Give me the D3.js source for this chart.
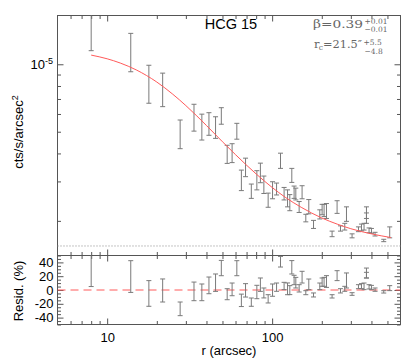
<!DOCTYPE html>
<html><head><meta charset="utf-8">
<script src="https://cdn.jsdelivr.net/npm/d3@7"></script>
<style>
body{margin:0;background:#fff}
svg{display:block}
text{font-family:"Liberation Sans",Arial,Helvetica,sans-serif}
</style>
</head><body><svg id="c" width="409" height="361"></svg>
<script>
// ---- data (surface brightness in units of 1e-6 cts/s/arcsec^2) ----
const radius = [8.0,13.9,17.9,21.7,27.7,33.6,37.5,41.4,45.4,49.2,53.4,57.2,61.1,65.1,69.0,74.8,80.8,84.9,89.1,94.6,100.6,106.4,112.4,118.2,124.0,128.0,131.6,135.9,139.2,145.8,151.9,160.0,166.8,178.2,194.5,200.9,206.5,213.5,230.9,247.6,259.6,275.6,282.3,305.2,333.7,348.0,360.8,373.1,373.1,386.9,400.0,420.6,474.9,516.1];
const surfBright = [14.1,11.5,8.3,7.8,4.92,5.83,5.29,5.45,5.25,5.9,3.98,4.03,5.04,3.05,3.48,2.72,3.05,3.29,2.91,2.48,2.75,2.78,3.72,2.65,2.53,2.42,3.2,2.69,2.64,2.31,2.69,2.06,2.32,1.93,2.14,2.25,2.23,2.22,1.75,2.31,1.85,1.885,2.15,1.715,1.835,1.87,1.885,2.13,2.11,1.815,1.805,1.745,1.635,1.78];
const sbErr = [2.6,2.24,1.6,1.33,0.72,0.8,0.7,0.63,0.58,0.5,0.37,0.39,0.41,0.32,0.33,0.2,0.3,0.33,0.26,0.18,0.24,0.17,0.29,0.17,0.22,0.2,0.23,0.17,0.16,0.13,0.18,0.08,0.17,0.08,0.1,0.12,0.14,0.17,0.05,0.15,0.05,0.065,0.16,0.035,0.045,0.065,0.065,0.18,0.06,0.045,0.045,0.033,0.02,0.1];
const residual = [30,19.5,-5,-0.7,-27.3,-2,-3.4,6.7,10.6,31.8,-6.1,0.9,31.6,-15,-0.5,-17.6,-2.9,7.7,-4.3,-12.8,-0.2,4.1,41,5.8,1.7,-0.2,32.9,14.5,10.6,2.4,18.6,-3.9,8.2,-7.2,5.3,11.4,11.8,12.3,-9.2,20.8,-1.2,1.7,13.8,-5.8,4.8,5.6,5.3,24.6,21.5,4.6,3.6,0.5,-2.7,2.7];
const residErr = [25,23,18.6,16.7,9.9,13.5,12.1,12.1,12.6,11.1,8,9.2,10.9,9,9.7,6,9.7,9.7,7.2,6,8.9,6,7.7,5.3,8.5,6.5,9.7,6.8,7.7,5.3,8.5,2.9,7.7,2.9,4.8,6,6.5,8.5,2.4,7.2,3.1,3.6,10.9,1.9,2.9,3.6,4.8,7.2,4.1,3.1,3.1,2.4,1.7,3.6];
const modelRadius = [8,10,12,15,20,25,30,40,50,60,80,100,120,150,200,250,300,400,525];
const modelSB = [10.99,10.58,10.13,9.44,8.33,7.35,6.54,5.33,4.51,3.95,3.24,2.82,2.55,2.30,2.06,1.93,1.845,1.75,1.685];
const background = 1.545;
const xMajorTicks = [10,100];
const xMinorTicks = [6,7,8,9,20,30,40,50,60,70,80,90,200,300,400,500];
const yMajorTicks = [10];
const yMinorTicks = [2,3,4,5,6,7,8,9];
const rMajorTicks = [-40,-20,0,20,40];
const rMinorTicks = [-50,-45,-35,-30,-25,-15,-10,-5,5,10,15,25,30,35,45,50];

const svg = d3.select("#c");
const L=57.5, R=400.5, T=15.5, MB=255.5, B=324.5;
const x = d3.scaleLog().domain([5,600]).range([L,R]);
const y = d3.scaleLog().domain([1.401,16.51]).range([MB,T]);
const yr = d3.scaleLinear().domain([-50,50]).range([B,MB]);
const AX = "#555";

function ax(gen, tr, size, vals, fmt, pad){
  const g = svg.append("g").attr("transform", tr)
    .call(gen.tickValues(vals).tickSize(size).tickSizeOuter(0).tickPadding(pad||3).tickFormat(fmt||""));
  g.select(".domain").remove();
  g.selectAll("line").attr("stroke", AX);
  g.selectAll("text").attr("fill","#000").style("font-family",'"Liberation Sans",Arial,sans-serif');
  return g;
}

// frame
svg.append("rect").attr("x",L).attr("y",T).attr("width",R-L).attr("height",B-T).attr("fill","none").attr("stroke",AX);
svg.append("line").attr("x1",L).attr("x2",R).attr("y1",MB).attr("y2",MB).attr("stroke",AX);

// main panel axes
ax(d3.axisTop(x), `translate(0,${T})`, -6, xMajorTicks);
ax(d3.axisTop(x), `translate(0,${T})`, -3.5, xMinorTicks);
ax(d3.axisBottom(x), `translate(0,${MB})`, -6, xMajorTicks);
ax(d3.axisBottom(x), `translate(0,${MB})`, -3.5, xMinorTicks);
ax(d3.axisLeft(y), `translate(${L},0)`, -6, yMajorTicks);
ax(d3.axisLeft(y), `translate(${L},0)`, -3.5, yMinorTicks);
ax(d3.axisRight(y), `translate(${R},0)`, -6, yMajorTicks);
ax(d3.axisRight(y), `translate(${R},0)`, -3.5, yMinorTicks);
// 10^-5 label
yMajorTicks.forEach(v=>{
  const t = svg.append("text").attr("x",53).attr("y",y(v)+4.5).attr("text-anchor","end").style("font-size","13px");
  t.append("tspan").text("10");
  t.append("tspan").attr("dy",-5).style("font-size","9px").text("-5");
});

// residual panel axes
ax(d3.axisTop(x), `translate(0,${MB})`, -6, xMajorTicks);
ax(d3.axisTop(x), `translate(0,${MB})`, -3.5, xMinorTicks);
const xb = ax(d3.axisBottom(x), `translate(0,${B})`, -6, xMajorTicks, d=>String(d), 8);
xb.selectAll("text").style("font-size","13px");
ax(d3.axisBottom(x), `translate(0,${B})`, -3.5, xMinorTicks);
const yl = ax(d3.axisLeft(yr), `translate(${L},0)`, -6, rMajorTicks, d=>String(d), 4);
yl.selectAll("text").style("font-size","13px");
ax(d3.axisLeft(yr), `translate(${L},0)`, -3.5, rMinorTicks);
ax(d3.axisRight(yr), `translate(${R},0)`, -6, rMajorTicks);
ax(d3.axisRight(yr), `translate(${R},0)`, -3.5, rMinorTicks);

// clip paths
const defs = svg.append("defs");
defs.append("clipPath").attr("id","cm").append("rect").attr("x",L).attr("y",T).attr("width",R-L).attr("height",MB-T);
defs.append("clipPath").attr("id","cr").append("rect").attr("x",L).attr("y",MB).attr("width",R-L).attr("height",B-MB);

// background dotted line
svg.append("line").attr("x1",L).attr("x2",R).attr("y1",y(background)).attr("y2",y(background))
  .attr("stroke","#888").attr("stroke-dasharray","1,2");

// error bars
const pts = radius.map((r,i)=>({r, v:surfBright[i], e:sbErr[i], res:residual[i], re:residErr[i]}));
const EB = "#7a7a7a", cw = 2.5;
const gm = svg.append("g").attr("clip-path","url(#cm)");
pts.forEach(p=>{
  const xx = x(p.r), y1 = y(p.v+p.e), y2 = y(p.v-p.e);
  gm.append("line").attr("x1",xx).attr("x2",xx).attr("y1",y1).attr("y2",y2).attr("stroke",EB);
  [y1,y2].forEach(yy=>gm.append("line").attr("x1",xx-cw).attr("x2",xx+cw).attr("y1",yy).attr("y2",yy).attr("stroke",EB));
});
// model
const line = d3.line().x((d,i)=>x(modelRadius[i])).y(d=>y(d)).curve(d3.curveMonotoneX);
gm.append("path").attr("d", line(modelSB)).attr("fill","none").attr("stroke","#ff5a5a").attr("stroke-width",1);

// residuals
const gr = svg.append("g").attr("clip-path","url(#cr)");
gr.append("line").attr("x1",L).attr("x2",R).attr("y1",yr(0)).attr("y2",yr(0))
  .attr("stroke","#ff5a5a").attr("stroke-dasharray","8,5");
pts.forEach(p=>{
  const xx = x(p.r), y1 = yr(p.res+p.re), y2 = yr(p.res-p.re);
  gr.append("line").attr("x1",xx).attr("x2",xx).attr("y1",y1).attr("y2",y2).attr("stroke",EB);
  [y1,y2].forEach(yy=>gr.append("line").attr("x1",xx-cw).attr("x2",xx+cw).attr("y1",yy).attr("y2",yy).attr("stroke",EB));
});

// titles
svg.append("text").attr("x",231).attr("y",29).attr("text-anchor","middle").style("font-size","14.5px").text("HCG 15");
const ylab = svg.append("text").attr("transform","translate(23,132) rotate(-90)").attr("text-anchor","middle").style("font-size","13px");
ylab.append("tspan").text("cts/s/arcsec");
ylab.append("tspan").attr("dy",-5).style("font-size","9px").text("2");
svg.append("text").attr("transform","translate(23,291) rotate(-90)").attr("text-anchor","middle").style("font-size","13px").text("Resid. (%)");
svg.append("text").attr("x",229).attr("y",355).attr("text-anchor","middle").style("font-size","13px").text("r (arcsec)");

// annotation
const SF = '"DejaVu Serif",serif', AC = "#666";
function txt(xp, yp, s, size, len){
  const t = svg.append("text").attr("x",xp).attr("y",yp).style("font-family",SF).style("font-size",size+"px").attr("fill",AC).text(s);
  if(len) t.attr("textLength",len).attr("lengthAdjust","spacingAndGlyphs");
  return t;
}
// beta line
txt(313, 28, "\u03b2=0.39", 11.5, 50);
txt(364.5, 24, "+0.01", 7.5);
txt(364.5, 31.8, "\u22120.01", 7.5);
// r_c line
txt(314, 47.5, "r", 11.5);
txt(318.8, 50, "c", 7.5);
txt(323, 47.5, "=21.5\u2033", 11.5, 39);
txt(363.5, 45, "+5.5", 7.5);
txt(364.5, 54, "\u22124.8", 7.5);
</script>
</body></html>
